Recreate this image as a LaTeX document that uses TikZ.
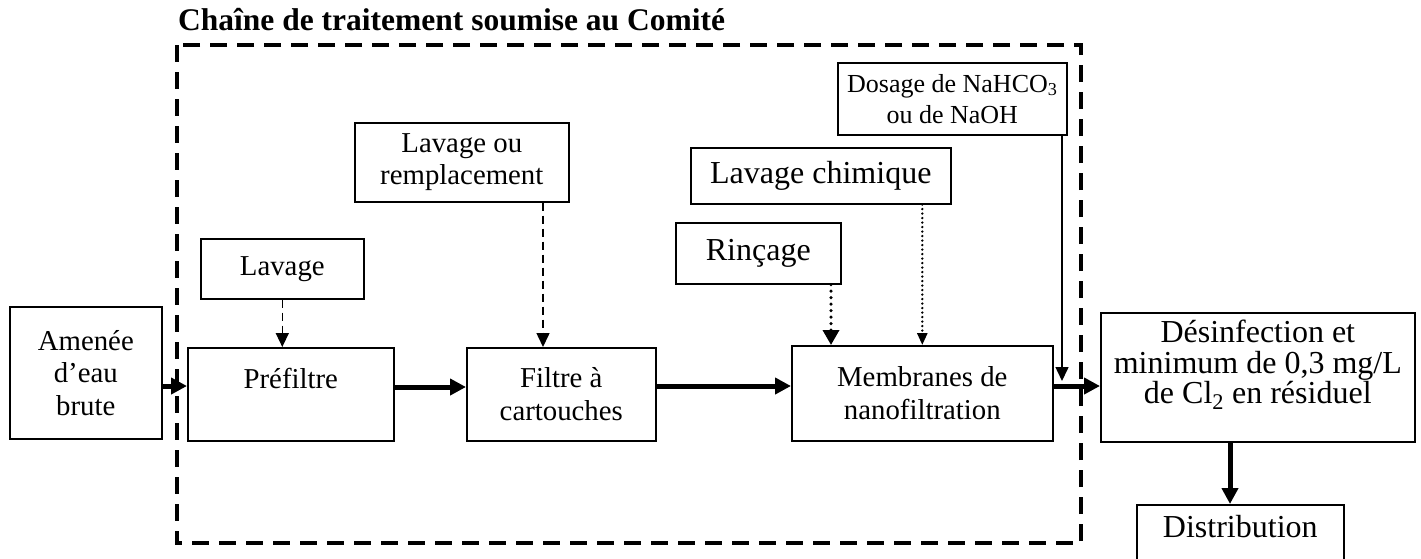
\documentclass[tikz,border=0pt]{standalone}
\usepackage{fontspec}
\setmainfont{Liberation Serif}
\usetikzlibrary{arrows.meta}
\newcommand{\txtnormal}{\fontsize{28.8}{32.5}\selectfont}
\newcommand{\txtgrand}{\fontsize{32}{30.5}\selectfont}
\newcommand{\txtpetit}{\fontsize{26}{31}\selectfont}

\begin{document}
\begin{tikzpicture}[
    x=1pt, y=-1pt,
    boite/.style={
        draw, line width=1.6pt, inner sep=0pt,
        align=center, fill=white, font=\txtnormal,
        anchor=north west
    },
    titre/.style={font=\fontsize{31.5}{36}\selectfont\bfseries, inner sep=0pt},
    % frame of the treatment chain
    cadre/.style={line width=4.5pt, dash pattern=on 17pt off 10pt},
    % main flow
    fleche/.style={line width=5pt, -{Triangle[length=16pt, width=16pt]}},
    % secondary inputs
    tiret/.style={line width=1.5pt, dash pattern=on 8pt off 5pt,
        -{Triangle[length=14pt, width=13pt]}},
    pointfort/.style={line width=3.5pt, line cap=round, dash pattern=on 0pt off 6.5pt,
        -{Triangle[length=15pt, width=16pt]}},
    pointfin/.style={line width=2.6pt, line cap=round, dash pattern=on 0pt off 4.5pt,
        -{Triangle[length=12pt, width=10pt]}},
    fin/.style={line width=1.5pt, -{Triangle[length=14pt, width=13pt]}},
]
\clip (0,0) rectangle (1421,558);

%% =================================================================
%% Title and dashed frame
%% =================================================================
\node[titre, anchor=base west] (titre) at (178,30) {Chaîne de traitement soumise au Comité};
\draw[cadre] (177,45) rectangle (1081,543);

%% =================================================================
%% Main chain
%% =================================================================
\node[boite, minimum width=152pt, minimum height=132pt] (amenee) at (9,306)
  {Amenée\\d’eau\\brute};
\node[boite, minimum width=206pt, text height=41pt, text depth=52pt] (prefiltre) at (187,347)
  {Préfiltre};
\node[boite, minimum width=189pt, minimum height=93pt] (filtre) at (466,347)
  {Filtre à\\cartouches};
\node[boite, minimum width=261pt, minimum height=95pt] (membranes) at (791,345)
  {Membranes de\\nanofiltration};
\node[boite, font=\txtgrand, align=flush center, text width=314pt,
      text height=29.7pt, text depth=99.3pt] (desinf) at (1100,312)
  {Désinfection et\\minimum de 0,3 mg/L\\de Cl\textsubscript{2} en résiduel};
\node[boite, font=\txtgrand, minimum width=207pt, text height=32.7pt, text depth=70pt] (distrib) at (1136,504)
  {Distribution};

%% =================================================================
%% Maintenance and dosing boxes
%% =================================================================
\node[boite, minimum width=163pt, minimum height=60pt] (lavage) at (200,238) {Lavage};
\node[boite, minimum width=214pt, minimum height=79pt] (lavremp) at (354,122)
  {Lavage ou\\remplacement};
\node[boite, font=\txtgrand, minimum width=260pt, minimum height=56pt] (lavchim) at (690,147)
  {Lavage chimique};
\node[boite, font=\txtgrand, minimum width=165pt, minimum height=61pt] (rincage) at (675,222)
  {Rinçage};
\node[boite, font=\txtpetit, minimum width=229pt, minimum height=72pt] (dosage) at (837,62)
  {Dosage de NaHCO\textsubscript{3}\\ou de NaOH};

%% =================================================================
%% Connectors
%% =================================================================
\draw[fleche] (amenee.east |- 0,386) -- (prefiltre.west |- 0,386);
\draw[fleche] (prefiltre.east |- 0,387) -- (filtre.west |- 0,387);
\draw[fleche] (filtre.east |- 0,386) -- (membranes.west |- 0,386);
\draw[fleche] (membranes.east |- 0,386) -- (desinf.west |- 0,386);
\draw[fleche] (desinf.south -| 1230,0) -- (distrib.north -| 1230,0);

\draw[tiret] (lavage.south) -- (prefiltre.north -| lavage.south);
\draw[tiret] (lavremp.south -| 543,0) -- (filtre.north -| 543,0);
\draw[pointfort] (rincage.south -| 831,0) -- (membranes.north -| 831,0);
\draw[pointfin] (lavchim.south -| membranes.north) -- (membranes.north);

\coordinate (dosfin) at (1062,381);
\draw[fin] (dosage.south -| dosfin) -- (dosfin);

\end{tikzpicture}
\end{document}
